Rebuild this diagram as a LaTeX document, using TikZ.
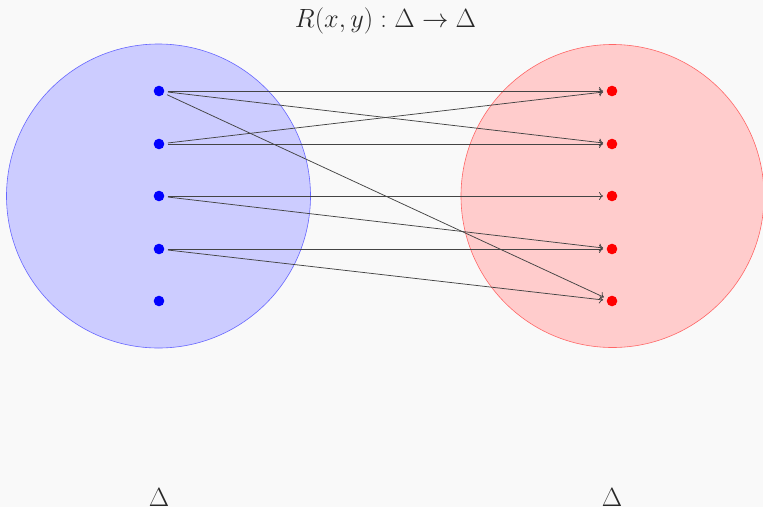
\documentclass[tikz,border=0pt]{standalone}
\usetikzlibrary{arrows.meta}
\definecolor{bgc}{RGB}{249,249,249}
\definecolor{edgec}{RGB}{68,68,68}
\definecolor{txtc}{RGB}{40,40,40}
\tikzset{
  ldot/.style={circle, fill=blue, inner sep=0pt, minimum size=10.6pt, outer sep=3.6pt},
  rdot/.style={circle, fill=red, inner sep=0pt, minimum size=10.6pt, outer sep=3.6pt},
  edge/.style={draw=edgec, line width=0.75pt, -{To[length=4pt,width=8pt]}},
  txt/.style={text=txtc, font=\huge, scale=1.27, inner sep=0pt},
}
\begin{document}
\begin{tikzpicture}[x=1pt,y=-1pt]
\fill[bgc] (0,0) rectangle (763,507);
\useasboundingbox (0,0) rectangle (763,507);
\draw[blue!60, fill=blue!20, line width=0.6pt] (158.5,196) circle[radius=152];
\draw[red!60, fill=red!20, line width=0.6pt] (612.5,196) circle[radius=151.5];
\foreach \i/\y in {1/91,2/144,3/196,4/249,5/301}{
  \node[ldot] (l\i) at (159,\y) {};
  \node[rdot] (r\i) at (612,\y) {};
}
\draw[edge] (l1) -- (r1);
\draw[edge] (l1) -- (r2);
\draw[edge] (l1) -- (r5);
\draw[edge] (l2) -- (r1);
\draw[edge] (l2) -- (r2);
\draw[edge] (l3) -- (r3);
\draw[edge] (l3) -- (r4);
\draw[edge] (l4) -- (r4);
\draw[edge] (l4) -- (r5);
\node[txt, anchor=base] (title) at (385.5,27) {$R(x,y):\Delta\to\Delta$};
\node[txt, anchor=base] (dl) at (159,506) {$\Delta$};
\node[txt, anchor=base] (dr) at (612,506) {$\Delta$};
\end{tikzpicture}
\end{document}
